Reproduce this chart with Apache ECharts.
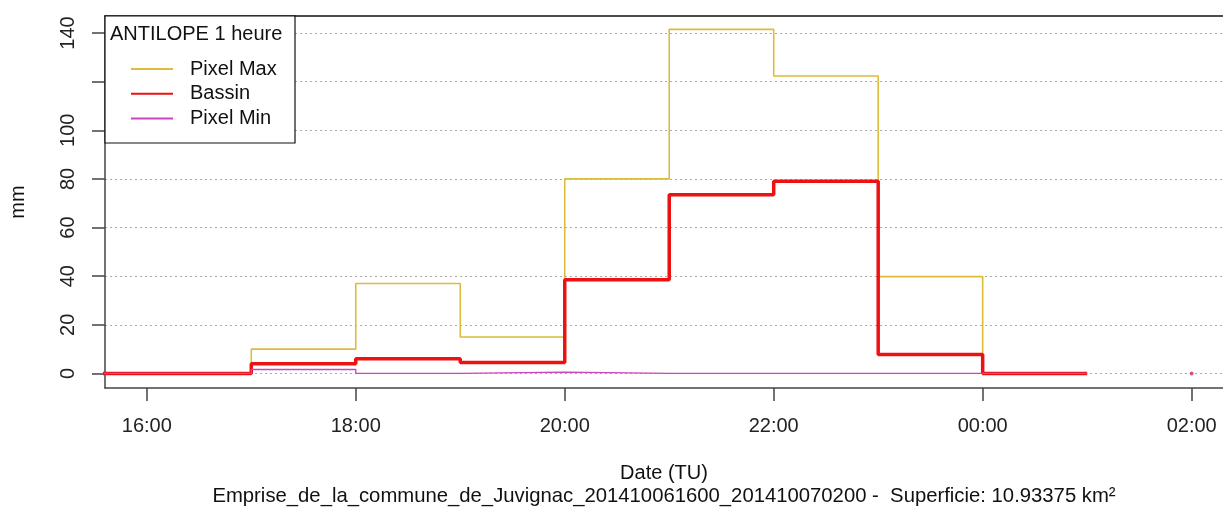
<!DOCTYPE html>
<html>
<head>
<meta charset="utf-8">
<script src="https://cdn.jsdelivr.net/npm/echarts@6/dist/echarts.min.js"></script>
<style>
html, body { margin: 0; padding: 0; background: #fff }
#chart { width: 1223px; height: 515px }
</style>
</head>
<body>
<div id="chart"></div>
<script>
// pas horaires (heure de début de chaque pas)
const hours = ['15:00', '16:00', '17:00', '18:00', '19:00', '20:00', '21:00', '22:00', '23:00', '00:00', '01:00']
const pixelMax = [0, 0, 10, 37, 15, 80, 141.5, 122.3, 39.8, 0, 0]
const bassin = [0, 0, 4, 6, 4.5, 38.5, 73.5, 79, 7.8, 0, 0]
const pixelMin = [0, 0, 1.6, 0, 0.5, 0, 0, 0, 0, 0, 0]
const lastPoint = ['02:00', 0]
const xTicks = ['16:00', '18:00', '20:00', '22:00', '00:00', '02:00']
const yTicks = [0, 20, 40, 60, 80, 100, 120, 140]
const yLabels = [0, 20, 40, 60, 80, 100, 140]

const FONT = "'Liberation Sans', Arial, sans-serif"

// heures écoulées depuis 16:00 le 06/10
function toX(hhmm) {
  let h = parseInt(hhmm.slice(0, 2), 10) + parseInt(hhmm.slice(3), 10) / 60
  if (h < 12) h += 24
  return h - 16
}
function fromX(x) {
  const h = Math.round(x + 16) % 24
  return String(h).padStart(2, '0') + ':00'
}
const steps = vals => hours.map((h, i) => [toX(h), vals[i]])

const chart = echarts.init(document.getElementById('chart'))
chart.setOption({
  animation: false,
  textStyle: { fontFamily: FONT },
  grid: { left: 105, right: 0, top: 16, bottom: 127, containLabel: false, outerBoundsMode: 'none' },
  title: [
    { text: 'ANTILOPE 1 heure', left: 110, top: 24, padding: 0, z: 70,
      textStyle: { fontFamily: FONT, fontSize: 20, fontWeight: 'normal', color: '#111' } },
    { text: 'Emprise_de_la_commune_de_Juvignac_201410061600_201410070200 -  Superficie: 10.93375 km²',
      left: 664, textAlign: 'center', top: 486, padding: 0,
      textStyle: { fontFamily: FONT, fontSize: 20.3, fontWeight: 'normal', color: '#111' } }
  ],
  legend: {
    orient: 'vertical', left: 130, top: 59, padding: 0, z: 70,
    itemWidth: 42, itemHeight: 14, itemGap: 4.7,
    itemStyle: { opacity: 0, color: 'transparent', borderWidth: 0 },
    textStyle: { fontFamily: FONT, fontSize: 20, lineHeight: 20, color: '#111', padding: [0, 0, 0, 12] },
    data: ['Pixel Max', 'Bassin', 'Pixel Min']
  },
  graphic: [{
    type: 'rect', z: 60, shape: { x: 105, y: 16, width: 190, height: 127 },
    style: { fill: '#fff', stroke: '#111', lineWidth: 1.2 }
  }],
  xAxis: [{
    type: 'value', min: -0.4, max: 10.3, position: 'bottom',
    name: 'Date (TU)', nameLocation: 'middle', nameGap: 75,
    nameTextStyle: { fontFamily: FONT, fontSize: 20, color: '#111' },
    axisLine: { show: true, onZero: false, lineStyle: { color: '#444', width: 1.5 } },
    axisTick: { show: true, length: 13, customValues: xTicks.map(toX), lineStyle: { color: '#444', width: 1.5 } },
    axisLabel: { customValues: xTicks.map(toX), formatter: v => fromX(v), margin: 28,
      fontFamily: FONT, fontSize: 20, color: '#222' },
    splitLine: { show: false }
  }, {
    type: 'value', min: -0.4, max: 10.3, position: 'top',
    axisLine: { show: true, onZero: false, lineStyle: { color: '#111', width: 1.5 } },
    axisTick: { show: false }, axisLabel: { show: false }, splitLine: { show: false }
  }],
  yAxis: {
    type: 'value', min: -6, max: 147,
    name: 'mm', nameLocation: 'middle', nameRotate: 90, nameGap: 77,
    nameTextStyle: { fontFamily: FONT, fontSize: 20, color: '#111' },
    axisLine: { show: true, onZero: false, lineStyle: { color: '#444', width: 1.5 } },
    axisTick: { show: true, length: 13, customValues: yTicks, lineStyle: { color: '#444', width: 1.5 } },
    axisLabel: { customValues: yLabels, rotate: 90, margin: 27,
      fontFamily: FONT, fontSize: 20, color: '#222' },
    splitLine: { show: true, lineStyle: { color: '#aaa', type: [2, 3], width: 1.2 } }
  },
  series: [
    { name: 'Pixel Max', type: 'line', step: 'end', showSymbol: false, symbol: 'none',
      data: steps(pixelMax), color: '#dcbc3c', lineStyle: { width: 1.6 } },
    { name: 'Bassin', type: 'line', step: 'end', showSymbol: false, symbol: 'none',
      data: steps(bassin), color: '#ee1111', lineStyle: { width: 3.5 } },
    { name: 'Pixel Min', type: 'line', step: 'end', showSymbol: false, symbol: 'none',
      data: steps(pixelMin), color: '#cc44bb', lineStyle: { width: 1.3 } },
    { name: 'point', type: 'scatter', symbolSize: 4, color: '#d0306a',
      data: [[toX(lastPoint[0]), lastPoint[1]]] }
  ]
})
</script>
</body>
</html>
